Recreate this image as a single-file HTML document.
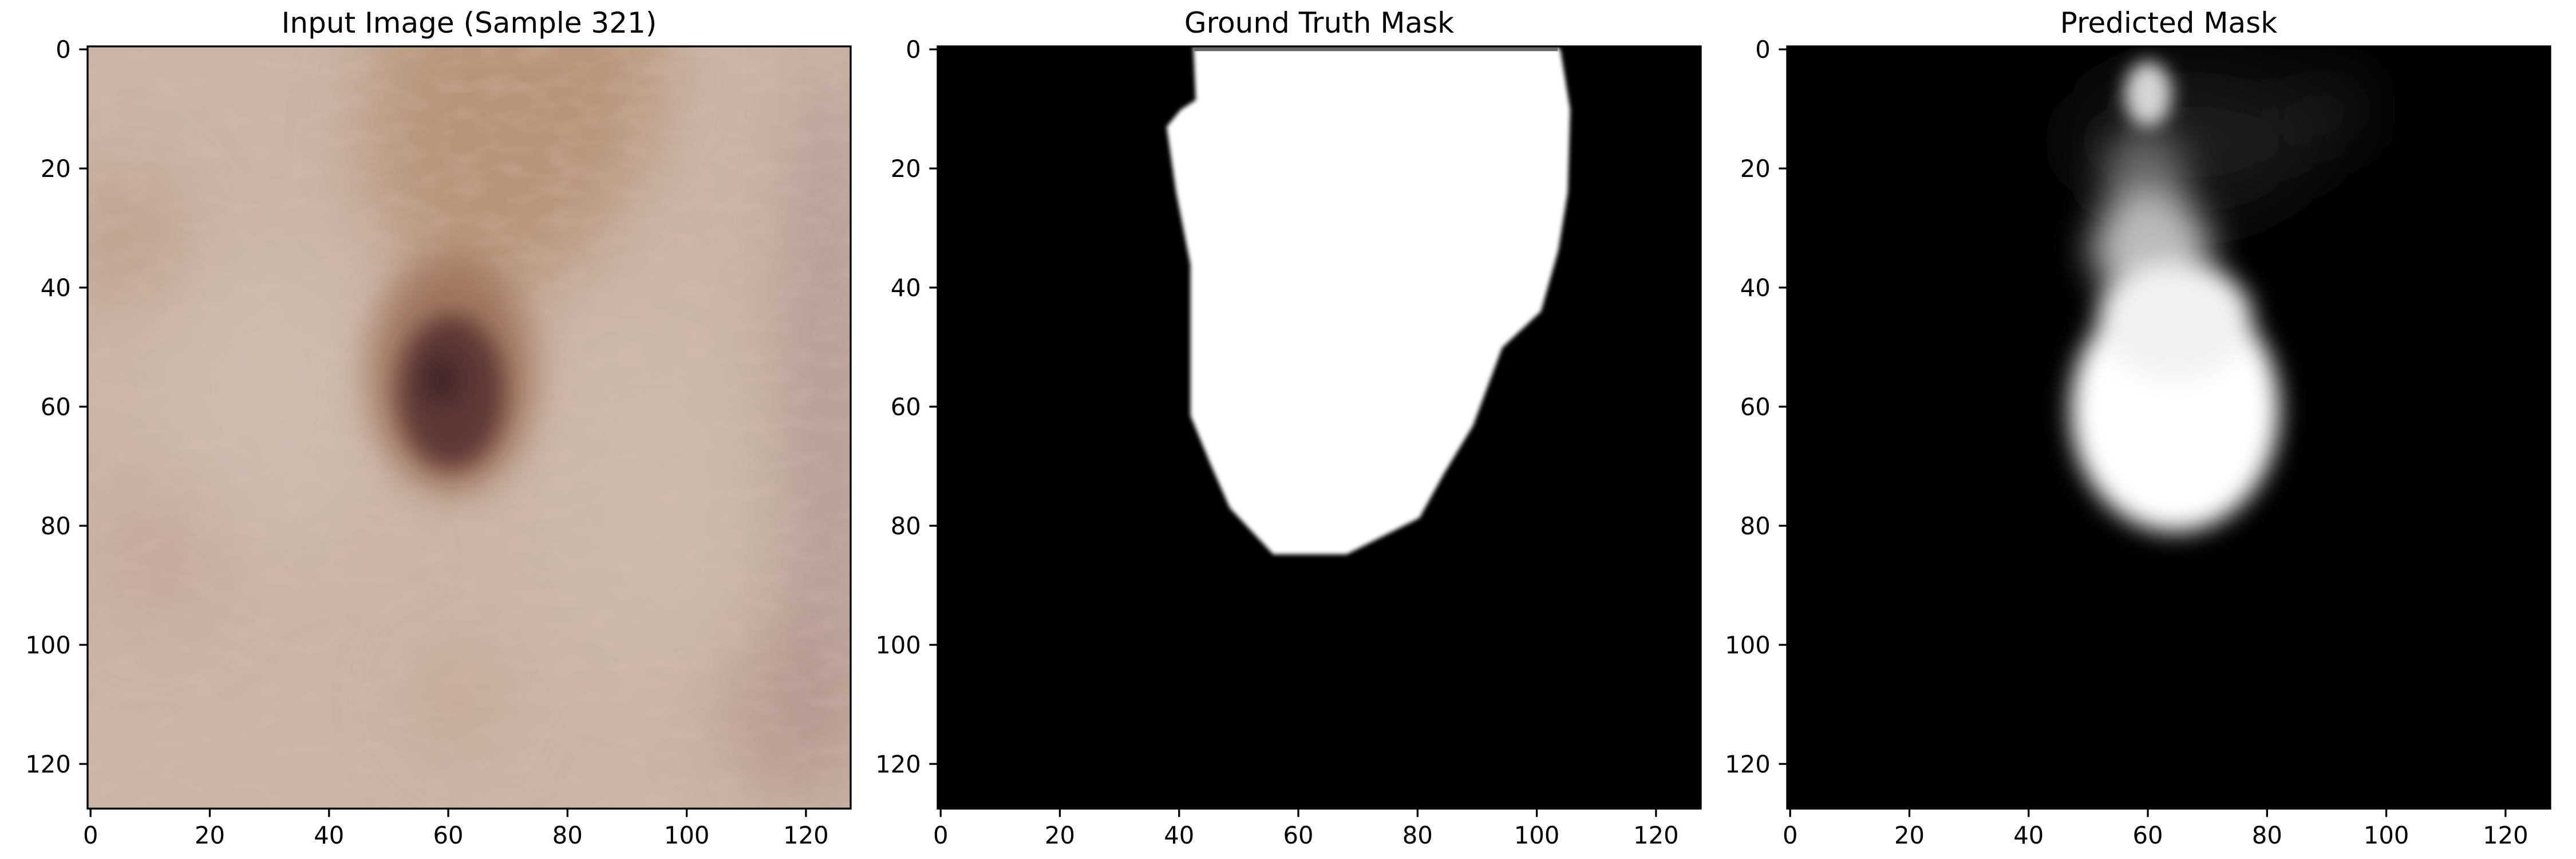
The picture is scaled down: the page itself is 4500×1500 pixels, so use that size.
<!DOCTYPE html>
<html><head><meta charset="utf-8"><style>
html,body{margin:0;padding:0;background:#fff;}
svg{display:block;}
text{font-family:"DejaVu Sans","Liberation Sans",sans-serif;fill:#000;}
</style></head><body>
<svg id="fig" xmlns="http://www.w3.org/2000/svg" width="4500" height="1500" viewBox="0 0 4500 1500">
<defs>
  <filter id="b6" x="-50%" y="-50%" width="200%" height="200%"><feGaussianBlur stdDeviation="6"/></filter>
  <filter id="b4" x="-50%" y="-50%" width="200%" height="200%"><feGaussianBlur stdDeviation="4"/></filter>
  <filter id="b3" x="-50%" y="-50%" width="200%" height="200%"><feGaussianBlur stdDeviation="3"/></filter>
  <filter id="b2" x="-50%" y="-50%" width="200%" height="200%"><feGaussianBlur stdDeviation="2"/></filter>
  <filter id="b15" x="-50%" y="-50%" width="200%" height="200%"><feGaussianBlur stdDeviation="1.5"/></filter>
  <filter id="b03" x="-10%" y="-10%" width="120%" height="120%"><feGaussianBlur stdDeviation="0.35"/></filter>
  <filter id="noise" x="0" y="0" width="100%" height="100%">
    <feTurbulence type="fractalNoise" baseFrequency="0.18 0.35" numOctaves="2" seed="7"/>
    <feColorMatrix type="matrix" values="0 0 0 0 0.72  0 0 0 0 0.52  0 0 0 0 0.48  0 0 0 1.2 -0.5"/>
  </filter>
</defs>

<!-- Panel 1: input image -->
<svg x="153" y="81" width="1333" height="1331" viewBox="0 0 128 128" preserveAspectRatio="none">
  <rect width="128" height="128" fill="#c9b4a6"/>
  <g filter="url(#b6)">
    <polygon points="50,-8 98,-8 94,18 82,36 70,44 56,40 46,20" fill="#b08866" opacity="0.7"/>
    <ellipse cx="6" cy="32" rx="10" ry="12" fill="#b8937c" opacity="0.55"/>
    <ellipse cx="124" cy="64" rx="8" ry="64" fill="#a99088" opacity="0.6"/>
    <ellipse cx="30" cy="60" rx="20" ry="25" fill="#cfbeb0" opacity="0.7"/>
    <ellipse cx="95" cy="75" rx="20" ry="30" fill="#cdbbad" opacity="0.7"/>
    <ellipse cx="62" cy="110" rx="8" ry="10" fill="#c0a08a" opacity="0.5"/>
    <ellipse cx="12" cy="85" rx="12" ry="14" fill="#c2a098" opacity="0.5"/>
    <ellipse cx="118" cy="112" rx="12" ry="16" fill="#b08c86" opacity="0.5"/>
  </g>
  <rect width="128" height="128" filter="url(#noise)" opacity="0.45"/>
  <g filter="url(#b3)">
    <ellipse cx="61" cy="55" rx="14" ry="20" fill="#9a6c52" opacity="0.8"/>
  </g>
  <g filter="url(#b2)">
    <ellipse cx="61" cy="58" rx="9" ry="13" fill="#5e3836"/>
    <ellipse cx="59.5" cy="56" rx="3.5" ry="4.5" fill="#42262a"/>
  </g>
</svg>

<!-- Panel 2: ground truth mask -->
<svg x="1638" y="81" width="1333" height="1331" viewBox="0 0 128 128" preserveAspectRatio="none">
  <rect width="128" height="128" fill="#000"/>
  <polygon id="gt-poly" fill="#fff" filter="url(#b03)"/>
  <rect x="43" y="0" width="61" height="0.8" fill="#666"/>
</svg>

<!-- Panel 3: predicted mask -->
<svg x="3122" y="81" width="1334" height="1331" viewBox="0 0 128 128" preserveAspectRatio="none">
  <rect width="128" height="128" fill="#000"/>
  <g filter="url(#b6)">
    <ellipse cx="68" cy="16" rx="20" ry="12" fill="#1e1e1e"/>
    <ellipse cx="91.5" cy="10.5" rx="4" ry="4" fill="#3a3a3a"/>
  </g>
  <g filter="url(#b3)">
    <ellipse cx="60" cy="22" rx="7" ry="8" fill="#666"/>
    <ellipse cx="61" cy="34" rx="10" ry="9" fill="#bbb"/>
  </g>
  <g filter="url(#b15)">
    <ellipse cx="60.5" cy="8" rx="4" ry="5.5" fill="#d4d4d4"/>
  </g>
  <g filter="url(#b2)">
    <ellipse cx="65" cy="61" rx="17.5" ry="20.5" fill="#fff"/>
    <ellipse cx="65" cy="46" rx="13" ry="10" fill="#f2f2f2"/>
  </g>
</svg>

<g id="axes-layer"></g>
</svg>

<script>
var panelLefts = [153, 1638, 3122];
var panelTitles = ["Input Image (Sample 321)", "Ground Truth Mask", "Predicted Mask"];
var tickValues = [0, 20, 40, 60, 80, 100, 120];
var tickLabels = ["0", "20", "40", "60", "80", "100", "120"];
var gtX = [42.9, 43.3, 40.8, 38.4, 40.0, 42.4, 42.4, 45.7, 49.0, 56.3, 68.6, 80.8, 84.9, 89.8, 94.7, 101.2, 104.1, 105.7, 106.1, 104.5, 104.0];
var gtY = [0, 9, 10.6, 13.5, 24.5, 36.7, 62, 70, 77.5, 85.3, 85.3, 79.2, 71.8, 63.7, 50.6, 44.5, 34.3, 24.5, 10.6, 0.8, 0];

var NS = "http://www.w3.org/2000/svg";
var TOP = 81, H = 1331, W = 1333, N = 128;
var TL = 14.6, LW = 3.3, FS = 41.7;

var pts = [];
for (var i = 0; i < gtX.length; i++) pts.push(gtX[i] + "," + gtY[i]);
document.getElementById("gt-poly").setAttribute("points", pts.join(" "));

function xScale(left, v) { return left + (v + 0.5) * W / N; }
function yScale(v) { return TOP + (v + 0.5) * H / N; }

var layer = document.getElementById("axes-layer");
function mk(tag, attrs) {
  var e = document.createElementNS(NS, tag);
  for (var k in attrs) e.setAttribute(k, attrs[k]);
  layer.appendChild(e);
  return e;
}

panelLefts.forEach(function (left, p) {
  var t = mk("text", {x: left + W / 2, y: 57, "font-size": 50, "text-anchor": "middle"});
  t.textContent = panelTitles[p];
  
  

  var fr = mk("rect", {x: left, y: TOP, width: W, height: H, fill: "none", stroke: "#000", "stroke-width": LW});
  
  

  tickValues.forEach(function (v, j) {
    var x = xScale(left, v);
    var xt = mk("line", {x1: x, x2: x, y1: TOP + H, y2: TOP + H + TL, stroke: "#000", "stroke-width": LW});
    
    
    var xl = mk("text", {x: x, y: TOP + H + 61, "font-size": FS, "text-anchor": "middle"});
    xl.textContent = tickLabels[j];
    
    

    var y = yScale(v);
    var yt = mk("line", {x1: left - TL, x2: left, y1: y, y2: y, stroke: "#000", "stroke-width": LW});
    
    
    var yl = mk("text", {x: left - TL - 14.6, y: y + 15, "font-size": FS, "text-anchor": "end"});
    yl.textContent = tickLabels[j];
    
    
  });
});
</script>
</body></html>
